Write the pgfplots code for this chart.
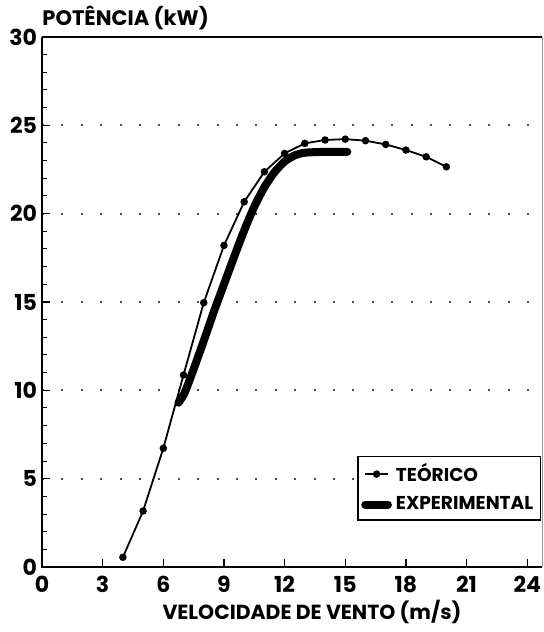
\documentclass[border=0pt]{standalone}
\usepackage{fontspec}
\setmainfont{Poppins}
\usepackage{pgfplots}
\pgfplotsset{compat=1.18}
\begin{document}
\begin{tikzpicture}
\begin{axis}[
  scale only axis,
  width=250pt, height=265pt,
  xmin=0, xmax=24.73, ymin=0, ymax=30,
  xtick={0,3,...,24}, ytick={0,5,...,30},
  minor ytick={1,2,...,29},
  tick align=inside,
  xtick pos=bottom, ytick pos=left,
  major tick length=4pt, minor tick length=2.5pt,
  tick style={black, line width=0.6pt},
  minor tick style={black, line width=0.5pt},
  axis line style={draw=none},
  ymajorgrids,
  major grid style={black!70, line width=1pt, dash pattern=on 1pt off 8.7pt},
  /pgf/number format/assume math mode=true,
  ticklabel style={font=\fontsize{11}{12}\selectfont\bfseries},
  xticklabel style={yshift=-1pt},
  yticklabel style={xshift=1pt},
  xlabel={VELOCIDADE DE VENTO (m/s)},
  xlabel style={font=\fontsize{10.2}{12}\selectfont\bfseries, yshift=3pt, xshift=10pt},
  legend style={at={(axis cs:15.6,6.3)}, anchor=north west, draw=black, line width=0.8pt,
     font=\fontsize{9.3}{11}\selectfont\bfseries, inner sep=1.5pt, row sep=2pt,
     /tikz/every even column/.append style={column sep=0pt}},
  legend cell align=left,
  legend image code/.code={\draw[mark repeat=2,mark phase=2,#1] plot coordinates {(0cm,0cm) (0.2cm,0cm) (0.4cm,0cm)};},
  clip=false,
]
\addplot[black, line width=0.9pt, mark=*, mark size=1.4pt] coordinates {
(4,0.55) (5,3.17) (6,6.72) (7,10.87) (8,14.96) (9,18.2) (10,20.67) (11,22.37)
(12,23.41) (13,23.98) (14,24.17) (15,24.22) (16,24.13) (17,23.92) (18,23.6)
(19,23.22) (20,22.65)};
\addlegendentry{TEÓRICO}
\addplot[black, line width=4pt, line cap=round, smooth, tension=0.4] coordinates {
(6.75,9.3) (7.05,9.85) (7.5,11.2) (8.0,12.8) (8.5,14.45) (9.0,16.0) (9.5,17.55)
(10.0,19.05) (10.5,20.4) (11.0,21.5) (11.5,22.35) (12.0,22.95) (12.5,23.3)
(13.0,23.45) (14.0,23.5) (15.1,23.5)};
\addlegendentry{EXPERIMENTAL}
\draw[black, line width=1pt] (rel axis cs:0,1) -- (rel axis cs:0,0) -- (rel axis cs:1,0);
\draw[black, line width=0.9pt] (rel axis cs:0,1) -- (rel axis cs:1,1);
\draw[black!40, line width=0.4pt] (rel axis cs:1,1) -- (rel axis cs:1,0);
\node[anchor=south west, inner sep=0pt, font=\fontsize{10.5}{12}\selectfont\bfseries] at ([yshift=3.5pt]rel axis cs:0,1) {POTÊNCIA (kW)};
\end{axis}
\pgfresetboundingbox
\path[use as bounding box] (-21pt,-32.5pt) rectangle (251pt,283.5pt);
\end{tikzpicture}
\end{document}
